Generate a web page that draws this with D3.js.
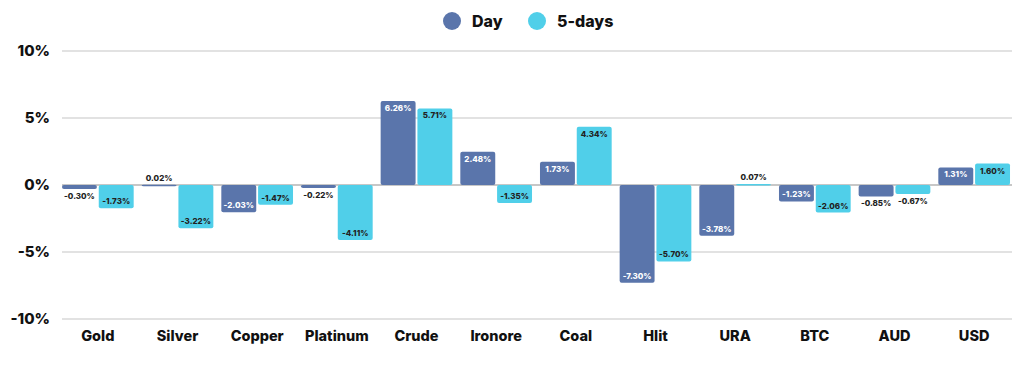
<!DOCTYPE html>
<html>
<head>
<meta charset="utf-8">
<script src="https://cdn.jsdelivr.net/npm/d3@7"></script>
<style>
  body { margin: 0; background: #fff; font-family: Inter, "Noto Sans", sans-serif; }
</style>
</head>
<body>
<div id="chart"></div>
<script>
const categories = ['Gold', 'Silver', 'Copper', 'Platinum', 'Crude', 'Ironore', 'Coal', 'Hlit', 'URA', 'BTC', 'AUD', 'USD'];
const dayValues = [-0.30, 0.02, -2.03, -0.22, 6.26, 2.48, 1.73, -7.30, -3.78, -1.23, -0.85, 1.31];
const fiveDayValues = [-1.73, -3.22, -1.47, -4.11, 5.71, -1.35, 4.34, -5.70, 0.07, -2.06, -0.67, 1.60];
const yTicks = [-10, -5, 0, 5, 10];
const seriesNames = ['Day', '5-days'];
const colors = ['#5a75ab', '#50cfe9'];

const width = 1024;
const height = 365;
const margin = {top: 51, right: 12, bottom: 46, left: 58};

const svg = d3.select('#chart').append('svg')
    .attr('width', width)
    .attr('height', height);

const x0 = d3.scaleBand()
    .domain(categories)
    .range([margin.left, width - margin.right + 2])
    .paddingInner(0.1)
    .paddingOuter(0.05);

const x1 = d3.scaleBand()
    .domain([0, 1])
    .range([0, x0.bandwidth()])
    .paddingInner(0.05);

const y = d3.scaleLinear()
    .domain([-10, 10])
    .range([height - margin.bottom, margin.top]);

// grid
svg.append('g')
  .selectAll('line')
  .data(yTicks)
  .join('line')
    .attr('x1', 62)
    .attr('x2', 1012)
    .attr('y1', d => y(d))
    .attr('y2', d => y(d))
    .attr('stroke', d => d === 0 ? '#b5b5b5' : '#d9d9d9')
    .attr('stroke-width', 1.5);

// y labels
svg.append('g')
  .selectAll('text')
  .data(yTicks)
  .join('text')
    .attr('x', 50)
    .attr('y', d => y(d) + 5)
    .attr('text-anchor', 'end')
    .attr('font-size', 15)
    .attr('font-weight', 800)
    .attr('fill', '#111')
    .text(d => d + '%');

// x labels
svg.append('g')
  .selectAll('text')
  .data(categories)
  .join('text')
    .attr('x', d => x0(d) + x0.bandwidth() / 2)
    .attr('y', 341)
    .attr('text-anchor', 'middle')
    .attr('font-size', 14.5)
    .attr('font-weight', 800)
    .attr('fill', '#111')
    .text(d => d);

const rows = [];
categories.forEach((c, i) => {
    rows.push({cat: c, s: 0, v: dayValues[i]});
    rows.push({cat: c, s: 1, v: fiveDayValues[i]});
});

const bx = d => x0(d.cat) + x1(d.s);

svg.append('g')
  .selectAll('rect')
  .data(rows)
  .join('rect')
    .attr('x', bx)
    .attr('y', d => Math.min(y(d.v), y(0)))
    .attr('width', x1.bandwidth())
    .attr('height', d => Math.max(Math.abs(y(d.v) - y(0)), 1.5))
    .attr('rx', 2)
    .attr('fill', d => colors[d.s]);

svg.append('g')
  .selectAll('text')
  .data(rows)
  .join('text')
    .attr('x', d => bx(d) + x1.bandwidth() / 2)
    .attr('y', d => {
        const inside = Math.abs(d.v) >= 1;
        if (d.v >= 0) return inside ? y(d.v) + 10 : y(d.v) - 4;
        return inside ? y(d.v) - 4 : y(d.v) + 10;
    })
    .attr('text-anchor', 'middle')
    .attr('font-size', 8)
    .attr('font-weight', 800)
    .attr('fill', d => (d.s === 0 && Math.abs(d.v) >= 1) ? '#fff' : '#222')
    .text(d => d.v.toFixed(2) + '%');

// legend
const legend = svg.append('g');
const legendX = [452, 537];
seriesNames.forEach((name, i) => {
    legend.append('circle')
        .attr('cx', legendX[i])
        .attr('cy', 21)
        .attr('r', 9)
        .attr('fill', colors[i]);
    legend.append('text')
        .attr('x', legendX[i] + 20)
        .attr('y', 27)
        .attr('font-size', 16)
        .attr('font-weight', 800)
        .attr('fill', '#111')
        .text(name);
});
</script>
</body>
</html>
